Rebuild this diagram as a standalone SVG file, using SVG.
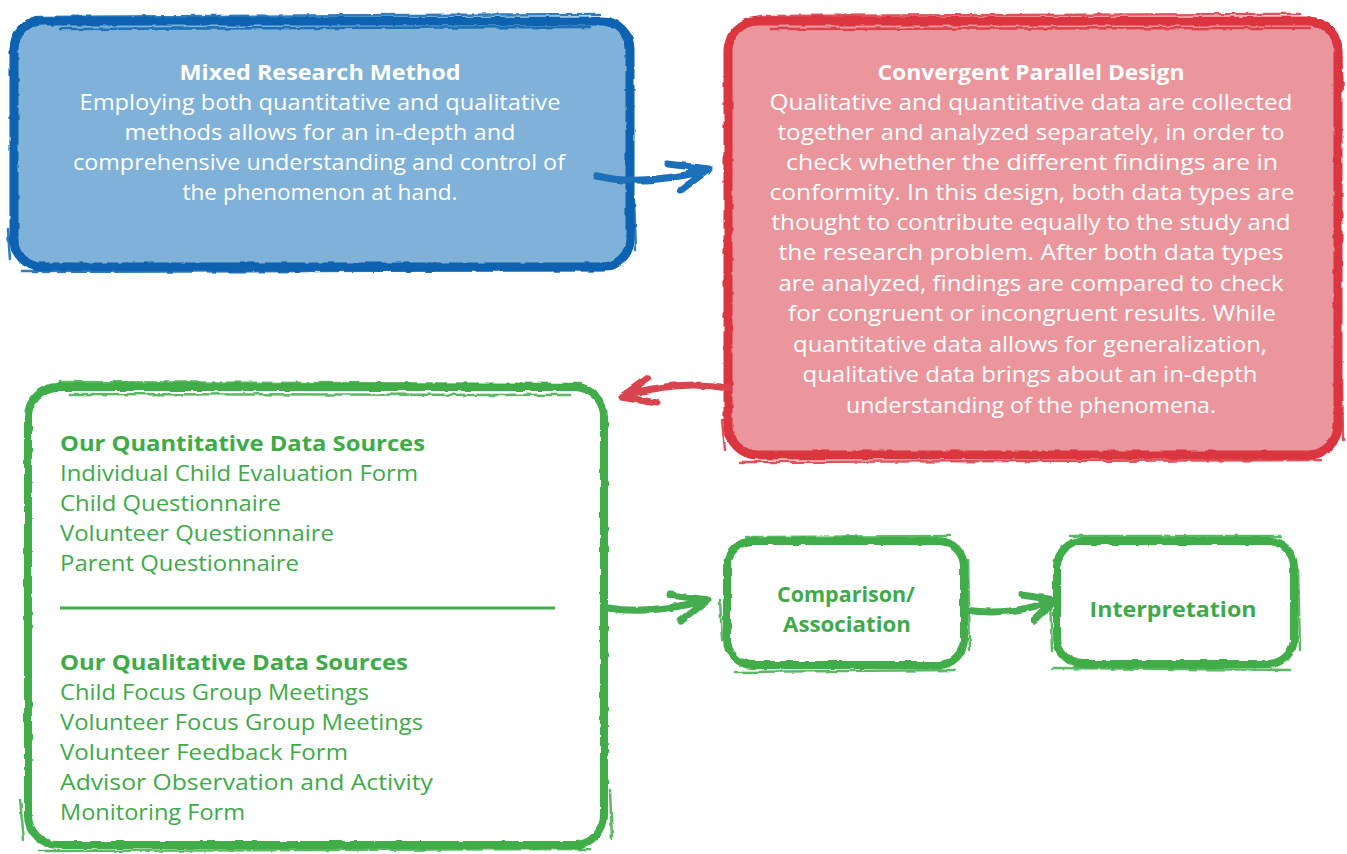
<svg xmlns="http://www.w3.org/2000/svg" width="1347" height="854" viewBox="0 0 1347 854">
  <defs>
    <!-- rough, brush-like edge for box outlines and arrows -->
    <filter id="rough" x="-5%" y="-5%" width="110%" height="110%">
      <feTurbulence type="fractalNoise" baseFrequency="0.09" numOctaves="2" seed="3" result="n"/>
      <feDisplacementMap in="SourceGraphic" in2="n" scale="3.5" xChannelSelector="R" yChannelSelector="G"/>
    </filter>
    <style>
      text { font-family: "Open Sans", "Noto Sans", "DejaVu Sans", sans-serif; font-size: 21px; }
      .w { fill: #ffffff; text-anchor: middle; }
      .g { fill: #3dab47; }
      .gc { fill: #3dab47; text-anchor: middle; }
      .b { font-weight: bold; }
      .edge { fill: none; stroke-linecap: round; stroke-linejoin: round; }
      .blue { stroke: #0864b2; }
      .red { stroke: #db343f; }
      .green { stroke: #40ad49; }
      .sketch { fill: none; stroke-width: 2.5; stroke-linecap: round; opacity: 0.85; }
      .arrow { fill: none; stroke-width: 7; stroke-linecap: round; stroke-linejoin: round; }
    </style>
  </defs>

  <rect width="1347" height="854" fill="#ffffff"/>

  <!-- Mixed Research Method -->
  <g id="mixed-method">
    <rect x="14" y="20" width="616" height="248" rx="28" fill="#80b2d9"/>
    <g filter="url(#rough)">
      <rect class="edge blue" x="14" y="21" width="616" height="246" rx="28" stroke-width="9"/>
      <path class="sketch blue" d="M40,17 L600,14 M60,29 L590,27 M8,230 L10,260 M22,272 L610,270 M634,200 L636,250 M45,264 L600,268"/>
    </g>
    <text class="w b" x="320" y="80" textLength="281" lengthAdjust="spacingAndGlyphs">Mixed Research Method</text>
    <text class="w" x="320" y="110" textLength="481" lengthAdjust="spacingAndGlyphs">Employing both quantitative and qualitative</text>
    <text class="w" x="320" y="140" textLength="391" lengthAdjust="spacingAndGlyphs">methods allows for an in-depth and</text>
    <text class="w" x="319" y="170" textLength="492" lengthAdjust="spacingAndGlyphs">comprehensive understanding and control of</text>
    <text class="w" x="320" y="200" textLength="275" lengthAdjust="spacingAndGlyphs">the phenomenon at hand.</text>
  </g>

  <!-- Convergent Parallel Design -->
  <g id="convergent-design">
    <rect x="728" y="20" width="610" height="436" rx="30" fill="#ea969c"/>
    <g filter="url(#rough)">
      <rect class="edge red" x="728" y="21" width="610" height="434" rx="30" stroke-width="9"/>
      <path class="sketch red" d="M760,16 L1300,14 M770,29 L1310,28 M722,420 L725,450 M740,462 L1320,460 M1342,380 L1343,440 M1340,40 L1343,90"/>
    </g>
    <text class="w b" x="1031" y="80" textLength="307" lengthAdjust="spacingAndGlyphs">Convergent Parallel Design</text>
    <text class="w" x="1031" y="110" textLength="523" lengthAdjust="spacingAndGlyphs">Qualitative and quantitative data are collected</text>
    <text class="w" x="1031" y="140" textLength="507" lengthAdjust="spacingAndGlyphs">together and analyzed separately, in order to</text>
    <text class="w" x="1032" y="170" textLength="492" lengthAdjust="spacingAndGlyphs">check whether the different findings are in</text>
    <text class="w" x="1032" y="200" textLength="525" lengthAdjust="spacingAndGlyphs">conformity. In this design, both data types are</text>
    <text class="w" x="1031" y="230" textLength="519" lengthAdjust="spacingAndGlyphs">thought to contribute equally to the study and</text>
    <text class="w" x="1031" y="260" textLength="505" lengthAdjust="spacingAndGlyphs">the research problem. After both data types</text>
    <text class="w" x="1031" y="291" textLength="505" lengthAdjust="spacingAndGlyphs">are analyzed, findings are compared to check</text>
    <text class="w" x="1032" y="321" textLength="488" lengthAdjust="spacingAndGlyphs">for congruent or incongruent results. While</text>
    <text class="w" x="1030" y="352" textLength="474" lengthAdjust="spacingAndGlyphs">quantitative data allows for generalization,</text>
    <text class="w" x="1030" y="382" textLength="455" lengthAdjust="spacingAndGlyphs">qualitative data brings about an in-depth</text>
    <text class="w" x="1031" y="413" textLength="370" lengthAdjust="spacingAndGlyphs">understanding of the phenomena.</text>
  </g>

  <!-- Data sources -->
  <g id="data-sources">
    <rect x="28" y="387" width="576" height="458" rx="30" fill="#ffffff"/>
    <g filter="url(#rough)">
      <rect class="edge green" x="28" y="387" width="576" height="458" rx="30" stroke-width="8"/>
      <path class="sketch green" d="M60,382 L580,384 M70,394 L570,395 M20,800 L24,840 M40,851 L590,849 M610,790 L612,840"/>
    </g>
    <text class="g b" x="60" y="451" textLength="365" lengthAdjust="spacingAndGlyphs">Our Quantitative Data Sources</text>
    <text class="g" x="60" y="481" textLength="358" lengthAdjust="spacingAndGlyphs">Individual Child Evaluation Form</text>
    <text class="g" x="60" y="511" textLength="221" lengthAdjust="spacingAndGlyphs">Child Questionnaire</text>
    <text class="g" x="60" y="541" textLength="274" lengthAdjust="spacingAndGlyphs">Volunteer Questionnaire</text>
    <text class="g" x="60" y="571" textLength="239" lengthAdjust="spacingAndGlyphs">Parent Questionnaire</text>
    <line x1="60" y1="608" x2="555" y2="608" stroke="#40ad49" stroke-width="3"/>
    <text class="g b" x="60" y="670" textLength="348" lengthAdjust="spacingAndGlyphs">Our Qualitative Data Sources</text>
    <text class="g" x="60" y="700" textLength="309" lengthAdjust="spacingAndGlyphs">Child Focus Group Meetings</text>
    <text class="g" x="60" y="730" textLength="363" lengthAdjust="spacingAndGlyphs">Volunteer Focus Group Meetings</text>
    <text class="g" x="60" y="760" textLength="288" lengthAdjust="spacingAndGlyphs">Volunteer Feedback Form</text>
    <text class="g" x="60" y="790" textLength="373" lengthAdjust="spacingAndGlyphs">Advisor Observation and Activity</text>
    <text class="g" x="60" y="820" textLength="185" lengthAdjust="spacingAndGlyphs">Monitoring Form</text>
  </g>

  <!-- Comparison / Association -->
  <g id="comparison">
    <g filter="url(#rough)">
      <rect class="edge green" x="727" y="541" width="237" height="124" rx="26" stroke-width="8"/>
      <path class="sketch green" d="M745,537 L950,536 M735,672 L955,670 M720,600 L722,640 M968,560 L970,650"/>
    </g>
    <text class="gc b" x="846" y="602" textLength="138" lengthAdjust="spacingAndGlyphs">Comparison/</text>
    <text class="gc b" x="847" y="632" textLength="128" lengthAdjust="spacingAndGlyphs">Association</text>
  </g>

  <!-- Interpretation -->
  <g id="interpretation">
    <g filter="url(#rough)">
      <rect class="edge green" x="1057" y="541" width="237" height="123" rx="26" stroke-width="8"/>
      <path class="sketch green" d="M1070,536 L1280,536 M1052,668 L1290,670 M1050,600 L1052,650 M1298,570 L1300,650"/>
    </g>
    <text class="gc b" x="1173" y="617" textLength="167" lengthAdjust="spacingAndGlyphs">Interpretation</text>
  </g>

  <!-- connectors -->
  <g id="connectors" filter="url(#rough)">
    <path class="arrow" stroke="#1a6fba" d="M597,176 Q640,187 708,170 M668,164 L709,169 L681,190"/>
    <path class="arrow" stroke="#d9444f" d="M728,388 Q680,379 622,396 M648,378 L621,397 L657,403"/>
    <path class="arrow" stroke="#45ad4f" d="M608,608 Q650,615 707,600 M670,595 L708,600 L681,621"/>
    <path class="arrow" stroke="#45ad4f" d="M966,610 Q1010,617 1054,600 M1022,595 L1055,600 L1034,620"/>
  </g>
</svg>
